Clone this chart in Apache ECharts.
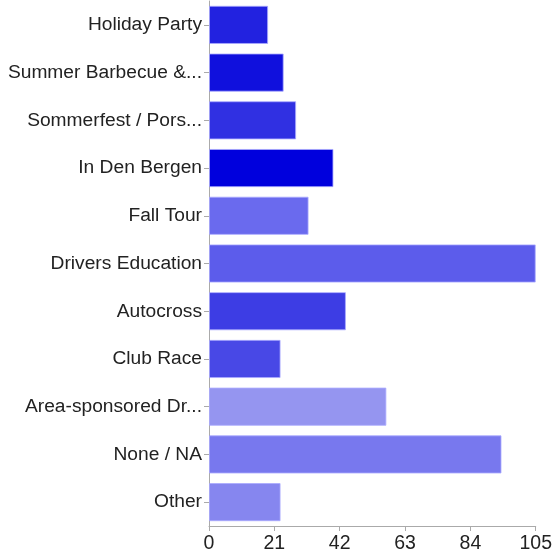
<!DOCTYPE html>
<html>
<head>
<meta charset="utf-8">
<script src="https://cdn.jsdelivr.net/npm/echarts@6/dist/echarts.min.js"></script>
<style>html,body{margin:0;padding:0;background:#fff}#c{width:555px;height:554px}</style>
</head>
<body>
<div id="c"></div>
<script>
var categories = ["Holiday Party","Summer Barbecue &...","Sommerfest / Pors...","In Den Bergen","Fall Tour","Drivers Education","Autocross","Club Race","Area-sponsored Dr...","None / NA","Other"];
var values = [19, 24, 28, 40, 32, 105, 44, 23, 57, 94, 23];
var barColors = ["#2222e0","#1010dd","#3030e2","#0000dd","#6a6aee","#5c5ceb","#3d3de4","#4848e6","#9595f0","#7878ee","#8686ef"];
var xTicks = [0, 21, 42, 63, 84, 105];

var chart = echarts.init(document.getElementById('c'), null, {renderer:'canvas'});
chart.setOption({
  animation: false,
  grid: {left: 209, right: 16, top: 1, bottom: 25, containLabel: false},
  xAxis: {
    type: 'value', min: xTicks[0], max: xTicks[xTicks.length-1], interval: xTicks[1]-xTicks[0],
    splitLine: {show: false},
    axisLine: {show: true, lineStyle: {color: '#aaaaaa', width: 1}},
    axisTick: {show: true, length: 5, lineStyle: {color: '#aaaaaa'}},
    axisLabel: {color: '#222', fontSize: 19.5, fontFamily: 'Liberation Sans, Arial, sans-serif', margin: 8}
  },
  yAxis: {
    type: 'category', data: categories, inverse: true,
    axisLine: {show: true, lineStyle: {color: '#aaaaaa', width: 1}},
    axisTick: {show: true, length: 5, alignWithLabel: true, lineStyle: {color: '#aaaaaa'}},
    axisLabel: {color: '#222', fontSize: 19.2, fontFamily: 'Liberation Sans, Arial, sans-serif', margin: 7}
  },
  series: [{
    type: 'bar',
    barCategoryGap: '20%',
    data: values.map(function(v, i){ return {value: v, itemStyle: {color: barColors[i]}}; }),
    itemStyle: {borderColor: 'rgba(170,170,255,0.8)', borderWidth: 1}
  }]
});
</script>
</body>
</html>
